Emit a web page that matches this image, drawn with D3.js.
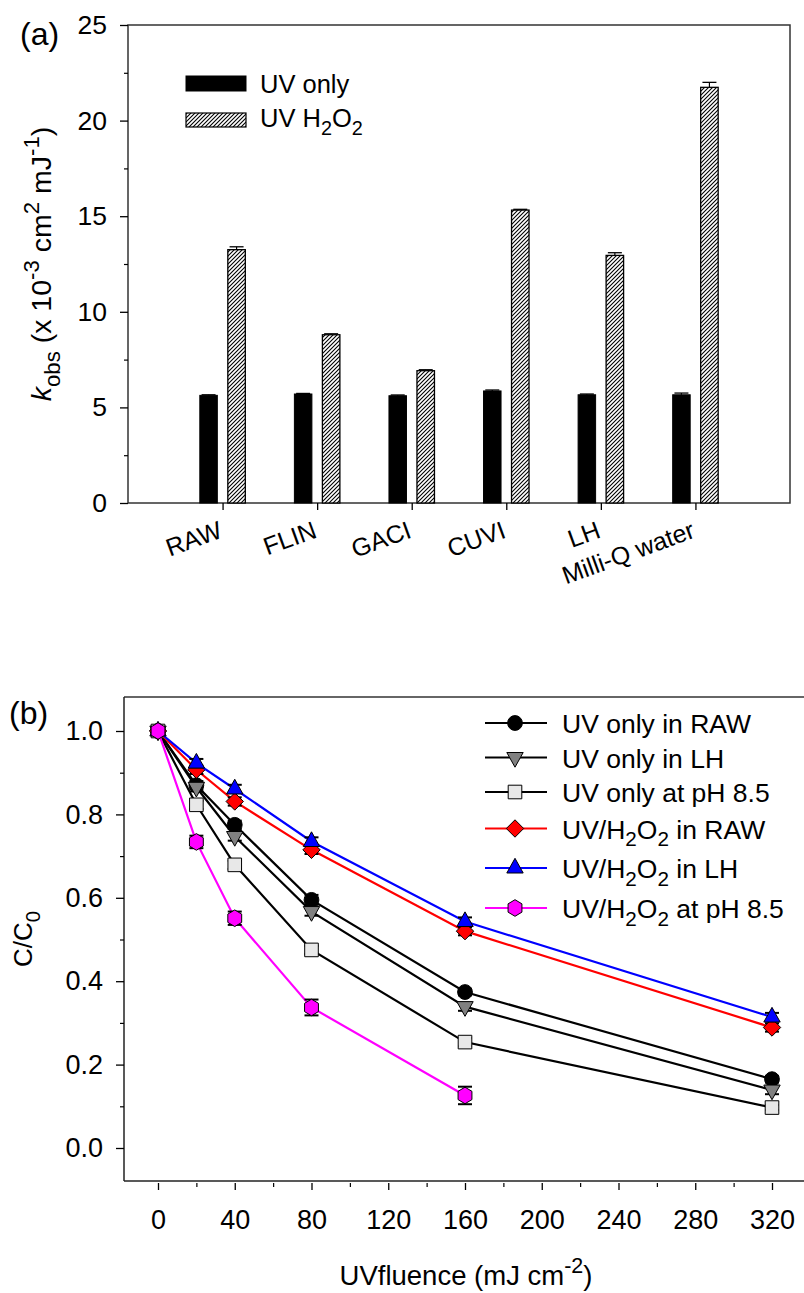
<!DOCTYPE html>
<html><head><meta charset="utf-8">
<script src="https://cdn.jsdelivr.net/npm/d3@7"></script>
<style>
body{margin:0;background:#fff}
svg{display:block}
text{font-family:"Liberation Sans",Arial,Helvetica,sans-serif;fill:#000}
</style>
</head><body>
<svg id="chart" width="804" height="1293"></svg>
<script>
// ---------------- DATA ----------------
// Panel (a)
const categories = ["RAW", "FLIN", "GACI", "CUVI", "LH", "Milli-Q water"];
const uvOnly     = [5.63, 5.70, 5.61, 5.86, 5.66, 5.66];
const uvOnlyErr  = [0.03, 0.03, 0.04, 0.05, 0.04, 0.09];
const uvH2O2     = [13.25, 8.80, 6.92, 15.32, 12.95, 21.74];
const uvH2O2Err  = [0.15, 0.05, 0.05, 0.04, 0.14, 0.26];
const kTicks     = [0, 5, 10, 15, 20, 25];
const kMinor     = [2.5, 7.5, 12.5, 17.5, 22.5];

// Panel (b)
const fluence      = [0, 20, 40, 80, 160, 320];
const fluencePH    = [0, 20, 40, 80, 160];
const uvRAW        = [1.0, 0.87, 0.775, 0.595, 0.374, 0.165];
const uvRAWErr     = [0.006, 0.01, 0.01, 0.012, 0.008, 0.008];
const uvLH         = [1.0, 0.865, 0.747, 0.567, 0.339, 0.139];
const uvLHErr      = [0.006, 0.01, 0.01, 0.01, 0.01, 0.01];
const uvPH         = [1.0, 0.823, 0.679, 0.475, 0.254, 0.097];
const uvPHErr      = [0.006, 0.01, 0.01, 0.01, 0.01, 0.006];
const h2o2RAW      = [1.0, 0.907, 0.831, 0.715, 0.52, 0.289];
const h2o2RAWErr   = [0.006, 0.01, 0.01, 0.01, 0.01, 0.01];
const h2o2LH       = [1.0, 0.923, 0.861, 0.735, 0.543, 0.314];
const h2o2LHErr    = [0.006, 0.01, 0.01, 0.01, 0.01, 0.01];
const h2o2PH       = [1.0, 0.734, 0.551, 0.337, 0.126];
const h2o2PHErr    = [0.006, 0.015, 0.016, 0.019, 0.021];
const xTicksB      = [0, 40, 80, 120, 160, 200, 240, 280, 320];
const xMinorB      = [20, 60, 100, 140, 180, 220, 260, 300];
const yTicksB      = [0, 0.2, 0.4, 0.6, 0.8, 1.0];
const yMinorB      = [0.1, 0.3, 0.5, 0.7, 0.9];

const seriesNames = ["UV only in RAW", "UV only in LH", "UV only at pH 8.5",
                     "UV/H2O2 in RAW", "UV/H2O2 in LH", "UV/H2O2 at pH 8.5"];

// ---------------- STYLE ----------------
const series = [
  {name: seriesNames[0], x: fluence,   y: uvRAW,   e: uvRAWErr,   line: "#000", fill: "#000",    sym: "circle"},
  {name: seriesNames[1], x: fluence,   y: uvLH,    e: uvLHErr,    line: "#000", fill: "#808080", sym: "triDown"},
  {name: seriesNames[2], x: fluence,   y: uvPH,    e: uvPHErr,    line: "#000", fill: "#e8e8e8", sym: "square"},
  {name: seriesNames[3], x: fluence,   y: h2o2RAW, e: h2o2RAWErr, line: "#ff0000", fill: "#ff0000", sym: "diamond"},
  {name: seriesNames[4], x: fluence,   y: h2o2LH,  e: h2o2LHErr,  line: "#0000ff", fill: "#0000ff", sym: "triUp"},
  {name: seriesNames[5], x: fluencePH, y: h2o2PH,  e: h2o2PHErr,  line: "#ff00ff", fill: "#ff00ff", sym: "hex"}
];

function polyPath(pts){ return d3.line()(pts) + "Z"; }
const symbols = {
  circle:  () => d3.symbol(d3.symbolCircle, Math.PI * 7.4 * 7.4)(),
  square:  () => polyPath([[-6.8,-6.8],[6.8,-6.8],[6.8,6.8],[-6.8,6.8]]),
  diamond: () => polyPath([[0,-8.7],[8.7,0],[0,8.7],[-8.7,0]]),
  triUp:   () => polyPath([[0,-9.7],[8.2,5],[-8.2,5]]),
  triDown: () => polyPath([[0,9.7],[8.2,-5],[-8.2,-5]]),
  hex:     () => polyPath(d3.range(6).map(k => {
              const a = -Math.PI/2 + k*Math.PI/3; return [8*Math.cos(a), 8.3*Math.sin(a)];
            }))
};

// rich text helper: parts = [[text, mode]], mode in n|sub|sup|i
function rich(sel, parts, size){
  let cur = 0;
  parts.forEach(([t, m]) => {
    const ts = sel.append("tspan").text(t);
    let target = 0, fs = size;
    if (m === "sub"){ target = 0.3*size; fs = 0.78*size; }
    if (m === "sup"){ target = -0.42*size; fs = 0.78*size; }
    if (m === "i") ts.attr("font-style", "italic");
    ts.attr("font-size", fs).attr("dy", target - cur);
    cur = target;
  });
}
function labelParts(name){
  const out = [];
  const m = name.match(/H2O2/);
  if (!m){ out.push([name, "n"]); return out; }
  const pre = name.slice(0, m.index), post = name.slice(m.index + 4);
  out.push([pre + "H", "n"], ["2", "sub"], ["O", "n"], ["2", "sub"], [post, "n"]);
  return out;
}

const svg = d3.select("#chart");
const FONT = '"Liberation Sans", Arial, Helvetica, sans-serif';

const defs = svg.append("defs");
const pat = defs.append("pattern").attr("id", "hatch")
  .attr("patternUnits", "userSpaceOnUse").attr("width", 4).attr("height", 4);
pat.append("rect").attr("width", 4).attr("height", 4).attr("fill", "#fff");
pat.append("path").attr("d", "M-1,1 l2,-2 M0,4 l4,-4 M3,5 l2,-2")
  .attr("stroke", "#000").attr("stroke-width", 1.1);

// ================= PANEL (a) =================
const A = {l: 128, r: 790, t: 25, b: 503};
const xA = d3.scalePoint().domain(categories).range([A.l, A.r]).padding(1);
const yA = d3.scaleLinear().domain([0, 25]).range([A.b, A.t]);
const gA = svg.append("g");

gA.append("rect").attr("x", A.l).attr("y", A.t)
  .attr("width", A.r - A.l).attr("height", A.b - A.t)
  .attr("fill", "none").attr("stroke", "#333").attr("stroke-width", 1.5);

const yAx = gA.append("g").attr("transform", `translate(${A.l},0)`)
  .call(d3.axisLeft(yA).tickValues(kTicks).tickSize(8).tickPadding(13).tickFormat(d3.format("d")));
yAx.attr("font-size", 26.5).attr("font-family", FONT);
yAx.select(".domain").remove();
yAx.selectAll("line").attr("stroke-width", 1.3);
const yAm = gA.append("g").attr("transform", `translate(${A.l},0)`)
  .call(d3.axisLeft(yA).tickValues(kMinor).tickSize(4).tickFormat(""));
yAm.select(".domain").remove();
yAm.selectAll("line").attr("stroke-width", 1.2);

const xAx = gA.append("g").attr("transform", `translate(0,${A.b})`)
  .call(d3.axisBottom(xA).tickSize(7).tickFormat(""));
xAx.select(".domain").remove();
xAx.selectAll("line").attr("stroke-width", 1.3);

categories.forEach(c => {
  gA.append("text")
    .attr("transform", `translate(${xA(c) + 1},${A.b + 34}) rotate(-20)`)
    .attr("text-anchor", "end").attr("font-size", 25).text(c);
});

const bw = 17.5, off = 14;
gA.selectAll(".bUV").data(categories).join("rect").attr("class", "bUV")
  .attr("x", c => xA(c) - off - bw/2).attr("width", bw)
  .attr("y", (c, i) => yA(uvOnly[i])).attr("height", (c, i) => yA(0) - yA(uvOnly[i]))
  .attr("fill", "#000").attr("stroke", "#000").attr("stroke-width", 1);
gA.selectAll(".bH").data(categories).join("rect").attr("class", "bH")
  .attr("x", c => xA(c) + off - bw/2).attr("width", bw)
  .attr("y", (c, i) => yA(uvH2O2[i])).attr("height", (c, i) => yA(0) - yA(uvH2O2[i]))
  .attr("fill", "url(#hatch)").attr("stroke", "#000").attr("stroke-width", 1.3);
function barErr(vals, errs, dx){
  categories.forEach((c, i) => {
    const x = xA(c) + dx, y0 = yA(vals[i]), y1 = yA(vals[i] + errs[i]);
    gA.append("line").attr("x1", x).attr("x2", x).attr("y1", y0).attr("y2", y1)
      .attr("stroke", "#000").attr("stroke-width", 1.2);
    gA.append("line").attr("x1", x - 7).attr("x2", x + 7).attr("y1", y1).attr("y2", y1)
      .attr("stroke", "#000").attr("stroke-width", 1.3);
  });
}
barErr(uvOnly, uvOnlyErr, -off);
barErr(uvH2O2, uvH2O2Err, off);

// legend (a)
gA.append("rect").attr("x", 186).attr("y", 76).attr("width", 60).attr("height", 15)
  .attr("fill", "#000").attr("stroke", "#000");
gA.append("rect").attr("x", 186).attr("y", 113).attr("width", 60).attr("height", 14)
  .attr("fill", "url(#hatch)").attr("stroke", "#000").attr("stroke-width", 1.2);
gA.append("text").attr("x", 260).attr("y", 93).attr("font-size", 25.5).text("UV only");
rich(gA.append("text").attr("x", 260).attr("y", 127), labelParts("UV H2O2"), 25.5);

// y label (a)
rich(gA.append("text").attr("text-anchor", "middle")
  .attr("transform", `translate(51,${(A.t + A.b)/2}) rotate(-90)`),
  [["k", "i"], ["obs", "sub"], [" (x 10", "n"], ["-3", "sup"], [" cm", "n"], ["2", "sup"],
   [" mJ", "n"], ["-1", "sup"], [")", "n"]], 28.5);

gA.append("text").attr("x", 20).attr("y", 45).attr("font-size", 32).text("(a)");

// ================= PANEL (b) =================
const B = {l: 124, r: 806, t: 697, b: 1181};
const xB = d3.scaleLinear().domain([0, 320]).range([158, 772]);
const yB = d3.scaleLinear().domain([0, 1]).range([1148, 731]);
const gB = svg.append("g");

gB.append("line").attr("x1", B.l).attr("x2", B.r).attr("y1", B.t).attr("y2", B.t)
  .attr("stroke", "#333").attr("stroke-width", 1.5);
gB.append("line").attr("x1", B.l).attr("x2", B.l).attr("y1", B.t).attr("y2", B.b)
  .attr("stroke", "#222").attr("stroke-width", 1.5);
gB.append("line").attr("x1", B.l).attr("x2", B.r).attr("y1", B.b).attr("y2", B.b)
  .attr("stroke", "#222").attr("stroke-width", 1.5);

const yBx = gB.append("g").attr("transform", `translate(${B.l},0)`)
  .call(d3.axisLeft(yB).tickValues(yTicksB).tickSize(8).tickPadding(13).tickFormat(d3.format(".1f")));
yBx.attr("font-size", 27).attr("font-family", FONT);
yBx.select(".domain").remove();
yBx.selectAll("line").attr("stroke-width", 1.3);
const yBm = gB.append("g").attr("transform", `translate(${B.l},0)`)
  .call(d3.axisLeft(yB).tickValues(yMinorB).tickSize(4).tickFormat(""));
yBm.select(".domain").remove();
yBm.selectAll("line").attr("stroke-width", 1.2);

const xBx = gB.append("g").attr("transform", `translate(0,${B.b})`)
  .call(d3.axisBottom(xB).tickValues(xTicksB).tickSize(9).tickFormat(d3.format("d")));
xBx.attr("font-size", 27).attr("font-family", FONT);
xBx.select(".domain").remove();
xBx.selectAll("line").attr("y1", 2).attr("stroke-width", 1.3);
xBx.selectAll("text").attr("y", 29);
const xBm = gB.append("g").attr("transform", `translate(0,${B.b})`)
  .call(d3.axisBottom(xB).tickValues(xMinorB).tickSize(6).tickFormat(""));
xBm.select(".domain").remove();
xBm.selectAll("line").attr("y1", 2).attr("stroke-width", 1.2);

// series
const lineGen = d3.line();
series.forEach(s => {
  const g = gB.append("g");
  const pts = s.x.map((xv, i) => [xB(xv), yB(s.y[i])]);
  g.append("path").attr("d", lineGen(pts)).attr("fill", "none")
    .attr("stroke", s.line).attr("stroke-width", 2.2);
  s.x.forEach((xv, i) => {
    const x = xB(xv), yt = yB(s.y[i] + s.e[i]), yb = yB(s.y[i] - s.e[i]);
    g.append("line").attr("x1", x).attr("x2", x).attr("y1", yt).attr("y2", yb)
      .attr("stroke", "#000").attr("stroke-width", 1.5);
    [yt, yb].forEach(yy => g.append("line").attr("x1", x - 7).attr("x2", x + 7)
      .attr("y1", yy).attr("y2", yy).attr("stroke", "#000").attr("stroke-width", 2));
  });
  g.selectAll("path.m").data(s.x).join("path").attr("class", "m")
    .attr("d", symbols[s.sym]())
    .attr("transform", (xv, i) => `translate(${xB(xv)},${yB(s.y[i])})`)
    .attr("fill", s.fill).attr("stroke", "#000").attr("stroke-width", 1);
});

// legend (b)
const legY = [723, 757.5, 792, 828.5, 868, 908];
series.forEach((s, i) => {
  const y = legY[i];
  gB.append("line").attr("x1", 485).attr("x2", 547).attr("y1", y).attr("y2", y)
    .attr("stroke", s.line).attr("stroke-width", 2.2);
  gB.append("path").attr("d", symbols[s.sym]()).attr("transform", `translate(515,${y})`)
    .attr("fill", s.fill).attr("stroke", "#000").attr("stroke-width", 1);
  rich(gB.append("text").attr("x", 562).attr("y", y + 10), labelParts(s.name), 26.5);
});

// axis titles (b)
rich(gB.append("text").attr("text-anchor", "middle").attr("x", 466).attr("y", 1285),
  [["UVfluence (mJ cm", "n"], ["-2", "sup"], [")", "n"]], 27.5);
rich(gB.append("text").attr("text-anchor", "middle")
  .attr("transform", `translate(32,${(B.t + B.b)/2}) rotate(-90)`),
  [["C/C", "n"], ["0", "sub"]], 26);

gB.append("text").attr("x", 9).attr("y", 724).attr("font-size", 32).text("(b)");
</script>
</body></html>
